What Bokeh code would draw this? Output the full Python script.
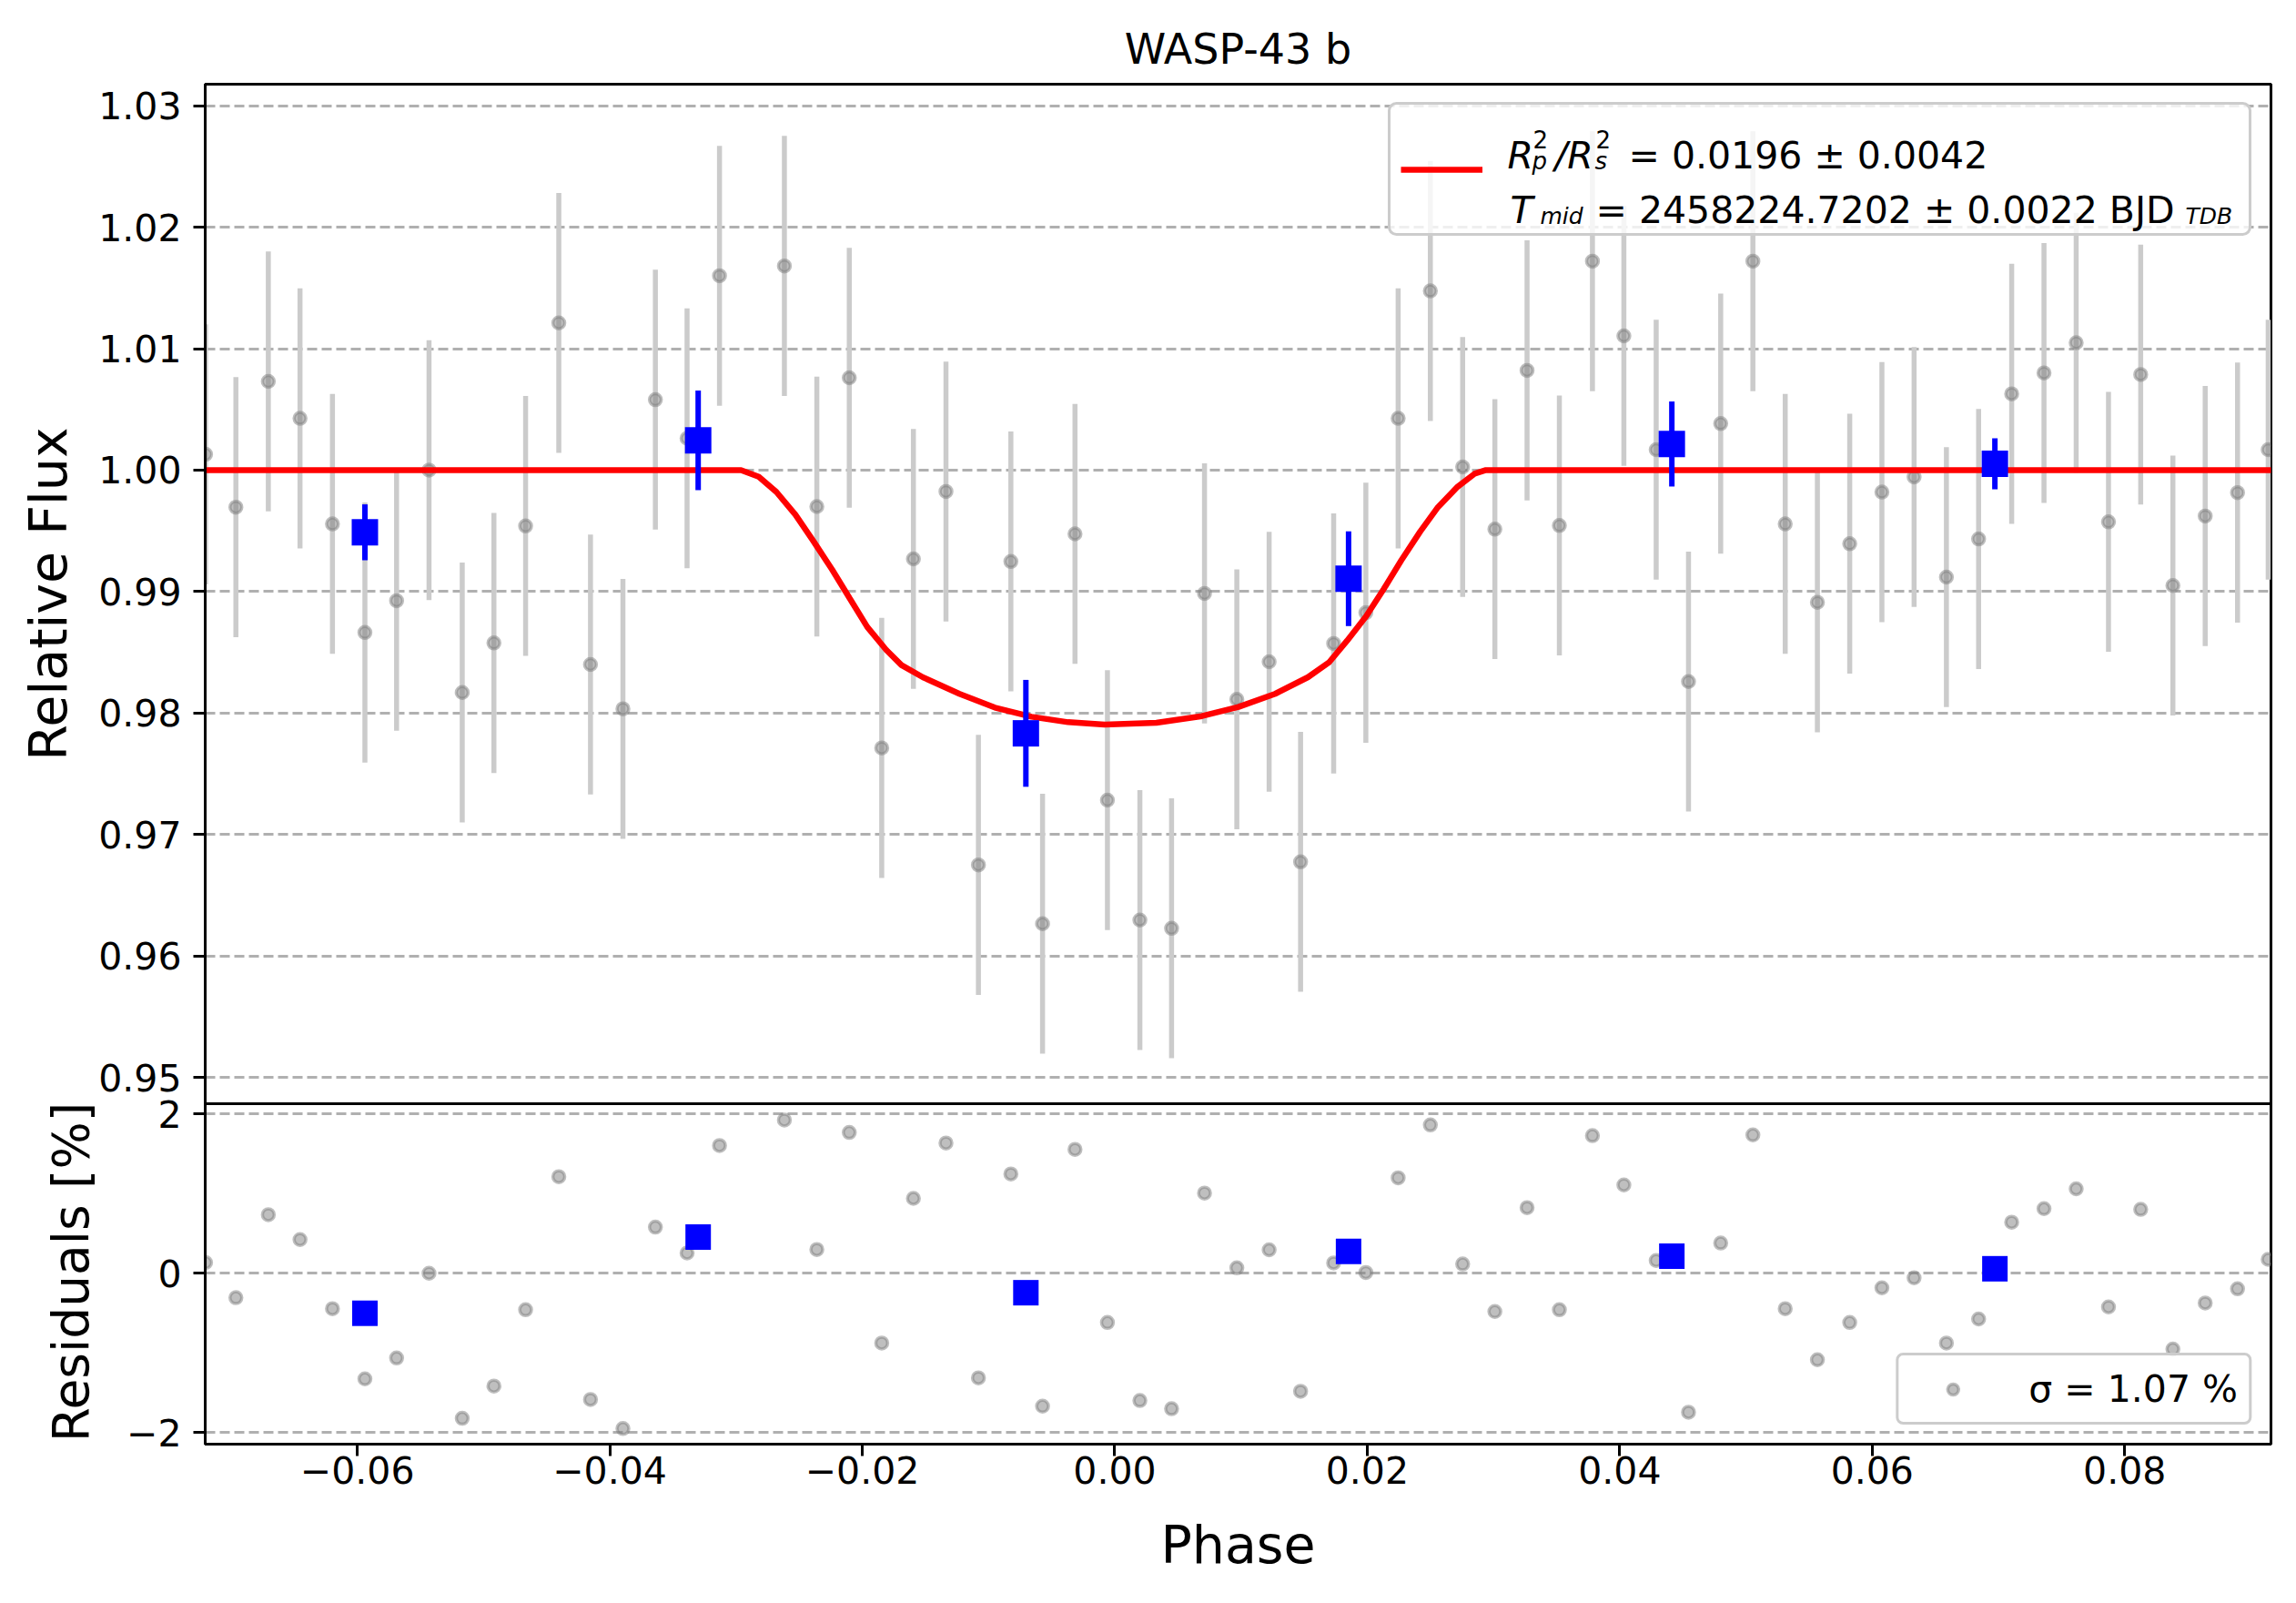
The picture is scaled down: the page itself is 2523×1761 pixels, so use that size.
import math
from bokeh.plotting import figure
from bokeh.models import (Range1d, FixedTicker, CustomJSTickFormatter, Label,
                          Legend, LegendItem, ColumnDataSource, Span, BoxAnnotation)
from bokeh.layouts import row
from bokeh.embed import file_html
from bokeh.resources import INLINE

# ---------------- data ----------------
phase = [-0.07202, -0.06962, -0.06705, -0.06454, -0.06197, -0.05940, -0.05689, -0.05432,
         -0.05169, -0.04918, -0.04667, -0.04404, -0.04153, -0.03896, -0.03639, -0.03388,
         -0.03131, -0.02617, -0.02360, -0.02103, -0.01846, -0.01595, -0.01337, -0.01080,
         -0.00823, -0.00572, -0.00315, -0.00058, 0.00199, 0.00450, 0.00711, 0.00967,
         0.01223, 0.01472, 0.01734, 0.01989, 0.02245, 0.02500, 0.02756, 0.03011,
         0.03266, 0.03522, 0.03784, 0.04033, 0.04289, 0.04545, 0.04800, 0.05055,
         0.05311, 0.05566, 0.05822, 0.06077, 0.06332, 0.06588, 0.06843, 0.07105,
         0.07361, 0.07616, 0.07872, 0.08127, 0.08382, 0.08638, 0.08894, 0.09137]
flux = [1.0013, 0.99695, 1.0073, 1.00426, 0.99557, 0.98663, 0.98925, 1.0000,
        0.98169, 0.98577, 0.9954, 1.01212, 0.9840, 0.98035, 1.0058, 1.00262,
        1.0160, 1.01681, 0.9970, 1.0076, 0.97713, 0.99269, 0.99824, 0.9675,
        0.99248, 0.96266, 0.99475, 0.97283, 0.96296, 0.96228, 0.98985, 0.98113,
        0.98422, 0.96775, 0.98573, 0.98826, 1.00426, 1.01475, 1.00026, 0.99514,
        1.00821, 0.99544, 1.0172, 1.01105, 1.00168, 0.98259, 1.00383, 1.0172,
        0.99557, 0.98912, 0.99394, 0.99819, 0.99944, 0.99119, 0.99433, 1.00628,
        1.008, 1.01049, 0.99574, 1.00787, 0.9905, 0.99622, 0.99815, 1.00168]
flux_err = [0.0107] * len(phase)
resid = [0.134, -0.307, 0.735, 0.423, -0.445, -1.327, -1.065, 0.0,
         -1.822, -1.417, -0.459, 1.212, -1.586, -1.951, 0.579, 0.254,
         1.604, 1.924, 0.298, 1.768, -0.877, 0.940, 1.635, -1.314,
         1.247, -1.670, 1.555, -0.619, -1.599, -1.702, 1.007, 0.067,
         0.294, -1.483, 0.129, 0.009, 1.198, 1.862, 0.116, -0.481,
         0.824, -0.459, 1.728, 1.109, 0.160, -1.746, 0.379, 1.737,
         -0.445, -1.087, -0.619, -0.183, -0.058, -0.877, -0.575, 0.641,
         0.811, 1.060, -0.423, 0.802, -0.953, -0.374, -0.196, 0.174]

bin_phase = [-0.0594, -0.0330, -0.00704, 0.01852, 0.04413, 0.06972]
bin_flux = [0.99488, 1.00245, 0.97833, 0.99106, 1.00215, 1.00052]
bin_err = [0.0023, 0.0041, 0.0044, 0.0039, 0.0035, 0.0021]
bin_resid = [-0.503, 0.454, -0.245, 0.274, 0.214, 0.056]

model_phase = [-0.0722, -0.0296, -0.0282, -0.0268, -0.0253, -0.0239, -0.0224, -0.0210,
               -0.0196, -0.0181, -0.0169, -0.0152, -0.0123, -0.0095, -0.0066, -0.0037,
               -0.0008, 0.0033, 0.0069, 0.0098, 0.0127, 0.0153, 0.0170, 0.0184,
               0.0199, 0.0213, 0.0227, 0.0242, 0.0256, 0.0271, 0.0285, 0.0294, 0.0917]
model_flux = [1.0, 1.0, 0.99945, 0.9982, 0.99633, 0.9942, 0.99183, 0.98945,
              0.98708, 0.9852, 0.98395, 0.98295, 0.98158, 0.98045, 0.9797, 0.97925,
              0.97905, 0.9792, 0.97975, 0.9805, 0.98158, 0.98295, 0.9842, 0.98595,
              0.98795, 0.9902, 0.99258, 0.99495, 0.99695, 0.99858, 0.9997, 1.0, 1.0]

flux_ticks = [0.95, 0.96, 0.97, 0.98, 0.99, 1.00, 1.01, 1.02, 1.03]
resid_ticks = [-2, 0, 2]
resid_tick_labels = ["\u22122", "0", "2"]
phase_ticks = [-0.06, -0.04, -0.02, 0.0, 0.02, 0.04, 0.06, 0.08]

title_text = "WASP-43 b"
flux_label = "Relative Flux"
resid_label = "Residuals [%]"
phase_label = "Phase"
rp_value_text = "= 0.0196 \u00b1 0.0042"
tmid_value_text = "= 2458224.7202 \u00b1 0.0022 BJD"
sigma_text = "\u03c3 = 1.07 %"

# ---------------- geometry (reference pixels) ----------------
FONT = "DejaVu Sans"
REF_LEFT, REF_RIGHT = 225, 2495
REF_TOP, REF_MID, REF_BOT = 92, 1212, 1586
X_LO, X_HI = -0.07205, 0.09159
Y_LO, Y_HI = 0.94784, 1.03177          # flux range of the upper panel
R_LO, R_HI = -2.147, 2.129              # residual range of the lower panel

W_TOTAL = 2515
LW = 104                                # strip on the left holding the y titles
W = W_TOTAL - LW
ML = REF_LEFT - LW
MR = W - ML - (REF_RIGHT - REF_LEFT)
MT = REF_TOP
MB = 150
H = MT + (REF_BOT - REF_TOP) + MB


def ax(px):
    return X_LO + (px - REF_LEFT) / (REF_RIGHT - REF_LEFT) * (X_HI - X_LO)


def ay(py):
    return Y_HI - (py - REF_TOP) / (REF_MID - REF_TOP) * (Y_HI - Y_LO)


def ry(py):
    return R_HI - (py - REF_MID) / (REF_BOT - REF_MID) * (R_HI - R_LO)


def r_to_py(r):
    return REF_MID + (R_HI - r) / (R_HI - R_LO) * (REF_BOT - REF_MID)


# full-frame ranges: the flux scale covers the upper 1120 px, residuals the lower 374 px
FLUX_RANGE = Range1d(ay(REF_BOT), Y_HI)
RESID_RANGE = Range1d(R_LO, ry(REF_TOP))

GRID_COLOR = "#b0b0b0"
ERR_COLOR = "#cbcbcb"

p = figure(width=W, height=H, x_range=Range1d(X_LO, X_HI), y_range=FLUX_RANGE,
           extra_y_ranges={"resid": RESID_RANGE},
           output_backend="svg", toolbar_location=None,
           min_border_left=ML, min_border_right=MR, min_border_top=MT,
           min_border_bottom=MB, title=title_text)
p.background_fill_color = "white"
p.border_fill_color = "white"
p.outline_line_color = "black"
p.outline_line_width = 3
p.title.text_font = FONT
p.title.text_font_size = "46px"
p.title.text_font_style = "normal"
p.title.align = "center"
p.title.text_color = "black"
p.title.standoff = 23

# y axis: flux ticks in the upper panel and residual ticks in the lower one
resid_tick_pos = [ay(r_to_py(r)) for r in resid_ticks]
yt = FixedTicker(ticks=flux_ticks + resid_tick_pos)
p.yaxis.ticker = yt
p.yaxis.formatter = CustomJSTickFormatter(
    args=dict(rpos=resid_tick_pos, rlab=resid_tick_labels),
    code="""
    for (let i = 0; i < rpos.length; i++) {
        if (Math.abs(tick - rpos[i]) < 1e-9) { return rlab[i]; }
    }
    return tick.toFixed(2);
    """)
xt = FixedTicker(ticks=phase_ticks)
p.xaxis.ticker = xt
p.xaxis.formatter = CustomJSTickFormatter(
    code="return (tick < 0 ? '\u2212' : '') + Math.abs(tick).toFixed(2);")

for a in list(p.xaxis) + list(p.yaxis):
    a.major_label_text_font = FONT
    a.major_label_text_font_size = "41px"
    a.major_label_text_color = "black"
    a.major_tick_out = 13
    a.major_tick_in = 0
    a.minor_tick_out = 0
    a.minor_tick_in = 0
    a.major_tick_line_width = 3
    a.major_tick_line_color = "black"
    a.axis_line_width = 3
    a.axis_line_color = "black"
for a in p.yaxis:
    a.major_label_standoff = 13
for a in p.xaxis:
    a.major_label_standoff = 0
    a.axis_label = phase_label
    a.axis_label_text_font = FONT
    a.axis_label_text_font_size = "57px"
    a.axis_label_text_font_style = "normal"
    a.axis_label_text_color = "black"
    a.axis_label_standoff = 31

for g in p.ygrid:
    g.ticker = yt
    g.grid_line_color = GRID_COLOR
    g.grid_line_width = 3
    g.grid_line_dash = "11 5"
p.xgrid.visible = False

# panel divider
p.add_layout(Span(location=ay(REF_MID), dimension="width", line_color="black",
                  line_width=3))

# ---------------- upper panel marks ----------------
src = ColumnDataSource(dict(
    phase=phase, flux=flux,
    lo=[f - e for f, e in zip(flux, flux_err)],
    hi=[f + e for f, e in zip(flux, flux_err)],
    resid=resid))
bsrc = ColumnDataSource(dict(
    phase=bin_phase, flux=bin_flux,
    lo=[f - e for f, e in zip(bin_flux, bin_err)],
    hi=[f + e for f, e in zip(bin_flux, bin_err)],
    resid=bin_resid))
msrc = ColumnDataSource(dict(phase=model_phase, flux=model_flux))

p.segment(x0="phase", y0="lo", x1="phase", y1="hi", source=src,
          line_color=ERR_COLOR, line_width=5.5)
p.scatter(x="phase", y="flux", source=src, marker="circle", size=13,
          fill_color="gray", fill_alpha=0.5, line_color="gray", line_alpha=0.5, line_width=3.5)
model_r = p.line(x="phase", y="flux", source=msrc, line_color="red", line_width=6.5)
p.segment(x0="phase", y0="lo", x1="phase", y1="hi", source=bsrc,
          line_color="blue", line_width=6)
p.scatter(x="phase", y="flux", source=bsrc, marker="square", size=29,
          fill_color="blue", line_color="blue", line_width=0)

# ---------------- lower panel marks ----------------
res_r = p.scatter(x="phase", y="resid", source=src, y_range_name="resid",
                  marker="circle", size=13, fill_color="gray", fill_alpha=0.5,
                  line_color="gray", line_alpha=0.5, line_width=3.5)
p.scatter(x="phase", y="resid", source=bsrc, y_range_name="resid",
          marker="square", size=28, fill_color="blue", line_color="blue", line_width=0)

# ---------------- legends ----------------
box1 = BoxAnnotation(left=ax(1526), right=ax(2472), top=ay(113), bottom=ay(257),
                     fill_color="white", fill_alpha=0.8,
                     line_color="#cccccc", line_width=3, line_alpha=1.0)
try:
    box1.border_radius = 8
except Exception:
    pass
p.add_layout(box1)

leg1 = Legend(items=[LegendItem(label=" ", renderers=[model_r])],
              location="top_right", margin=22, padding=12, spacing=0,
              glyph_width=90, glyph_height=120, label_width=827, label_height=120,
              label_standoff=5, label_text_font_size="41px",
              border_line_alpha=0.0, background_fill_alpha=0.0)
leg2 = Legend(items=[LegendItem(label=sigma_text, renderers=[res_r])],
              location="bottom_right", margin=21, padding=12, spacing=0,
              glyph_width=95, glyph_height=30, label_height=49, label_standoff=36,
              label_text_font=FONT, label_text_font_size="41px", label_text_color="black",
              border_line_color="#cccccc", border_line_width=3, border_line_alpha=1.0,
              background_fill_color="white", background_fill_alpha=0.8)
try:
    leg2.border_radius = 8
except Exception:
    pass
p.add_layout(leg1)
p.add_layout(leg2)


def lab(px, py, text, size, italic=False):
    p.add_layout(Label(x=ax(px), y=ay(py), text=text, text_font=FONT,
                       text_font_size=f"{size}px",
                       text_font_style="italic" if italic else "normal",
                       text_baseline="alphabetic", text_align="left",
                       text_color="black"))


# legend text (R_p^2/R_s^2 and T_mid) composed from pieces
lab(1656, 170, "R", 41, italic=True)
lab(1684, 152, "2", 26)
lab(1683, 176, "p", 26, italic=True)
lab(1708, 170, "/R", 41, italic=True)
lab(1753, 152, "2", 26)
lab(1752, 176, "s", 26, italic=True)
lab(1789, 170, rp_value_text, 41)
lab(1659, 230, "T", 41, italic=True)
lab(1692, 237, "mid", 25, italic=True)
lab(1753, 230, tmid_value_text, 41)
lab(2401, 237, "TDB", 25, italic=True)

# ---------------- left strip with the two y-axis titles ----------------
# its frame spans the same rows as the main frame, so y = reference pixel row
lf = figure(width=LW, height=H, x_range=Range1d(0, LW),
            y_range=Range1d(REF_BOT, REF_TOP),
            x_axis_type=None, y_axis_type=None, output_backend="svg",
            toolbar_location=None, min_border_left=0, min_border_right=0,
            min_border_top=MT, min_border_bottom=MB)
lf.outline_line_color = None
lf.background_fill_color = "white"
lf.border_fill_color = "white"
for txt, bx, cy, fs in ((flux_label, 52, (REF_TOP + REF_MID) / 2, 57),
                        (resid_label, 77, 1397, 55)):
    lf.add_layout(Label(x=bx, y=cy, text=txt, text_font=FONT, text_font_size=f"{fs}px",
                        text_baseline="alphabetic", text_align="center",
                        text_color="black", angle=math.pi / 2))

layout = row(lf, p)
with open("out.html", "w", encoding="utf-8") as fh:
    fh.write(file_html(layout, INLINE))
